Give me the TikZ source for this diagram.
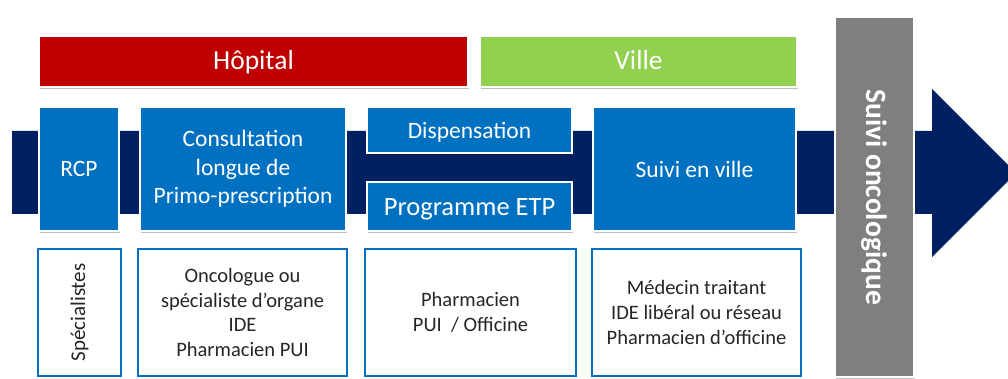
\documentclass[tikz,border=0pt]{standalone}
\usepackage{fontspec}
\setmainfont{Carlito}
\usetikzlibrary{shadows}
\definecolor{navy}{HTML}{002060}
\definecolor{boxblue}{HTML}{0070C0}
\definecolor{hopred}{HTML}{C00000}
\definecolor{villegreen}{HTML}{92D050}
\definecolor{suivigray}{HTML}{7F7F7F}
\definecolor{txtdark}{HTML}{262626}
\tikzset{
  shade/.style={drop shadow={shadow xshift=0.8pt,shadow yshift=-1.8pt,opacity=0.25,fill=black}},
  band/.style={rectangle,draw=white,line width=1.6pt,inner sep=0pt,text=white,align=center,shade},
  oneline/.style={text height=20pt,text depth=3pt},
  header/.style={band,oneline,minimum height=51pt,font=\fontsize{27.5}{32}\selectfont},
  topbox/.style={band,fill=boxblue},
  peoplebox/.style={rectangle,draw=boxblue,line width=2.8pt,fill=white,inner sep=0pt,align=center,text=txtdark,
    font=\fontsize{20.5}{24.8}\selectfont},
}
\begin{document}
\begin{tikzpicture}[x=1pt,y=-1pt]
\useasboundingbox (0,0) rectangle (1008,379);
\clip (0,0) rectangle (1008,379);
% process arrow
\fill[navy] (12,131) -- (932,131) -- (932,89) -- (1016,173) -- (932,257) -- (932,214) -- (12,214) -- cycle;
\coordinate (tip) at (1016,173);
% headers
\node[header,fill=hopred,minimum width=429pt] (hop) at (253.5,61.5) {Hôpital};
\node[header,fill=villegreen,minimum width=317pt] (ville) at (638.5,61.5) {Ville};
% suivi oncologique
\node[band,fill=suivigray,minimum width=79pt,minimum height=360pt] (suivi) at (874.5,197) {};
\node[rotate=-90,text=white,font=\bfseries\fontsize{29.5}{34}\selectfont] (suivitxt) at (suivi.center) {Suivi oncologique};
% process steps
\node[topbox,minimum width=80pt,minimum height=124pt,font=\fontsize{23.5}{28}\selectfont] (rcp) at (79,169) {RCP};
\node[topbox,minimum width=206pt,minimum height=124pt,font=\fontsize{23.5}{28.5}\selectfont] (consult) at (243,169) {Consultation\\longue de\\Primo-prescription};
\node[topbox,oneline,minimum width=205pt,minimum height=46pt,font=\fontsize{23.5}{27}\selectfont,text height=19.6pt] (disp) at (469.5,130) {Dispensation};
\node[topbox,oneline,minimum width=205pt,minimum height=49pt,font=\fontsize{26.5}{30}\selectfont] (etp) at (469.5,206.5) {Programme ETP};
\node[topbox,minimum width=203pt,minimum height=124pt,font=\fontsize{23.5}{28}\selectfont] (sville) at (694.5,169) {Suivi en ville};
% actors
\node[peoplebox,minimum width=83pt,minimum height=127pt] (spec) at (79.5,312.5) {};
\node[rotate=90,text=txtdark,font=\fontsize{21}{25}\selectfont] (spectxt) at (spec.center) {Spécialistes};
\node[peoplebox,minimum width=209pt,minimum height=127pt] (onco) at (242.5,312.5) {Oncologue ou\\spécialiste d’organe\\IDE\\Pharmacien PUI};
\node[peoplebox,minimum width=211pt,minimum height=127pt] (pharm) at (470.5,312.5) {Pharmacien\\PUI~ / Officine};
\node[peoplebox,minimum width=209pt,minimum height=127pt] (med) at (696.5,312.5) {Médecin traitant\\IDE libéral ou réseau\\Pharmacien d’officine};
\end{tikzpicture}
\end{document}
